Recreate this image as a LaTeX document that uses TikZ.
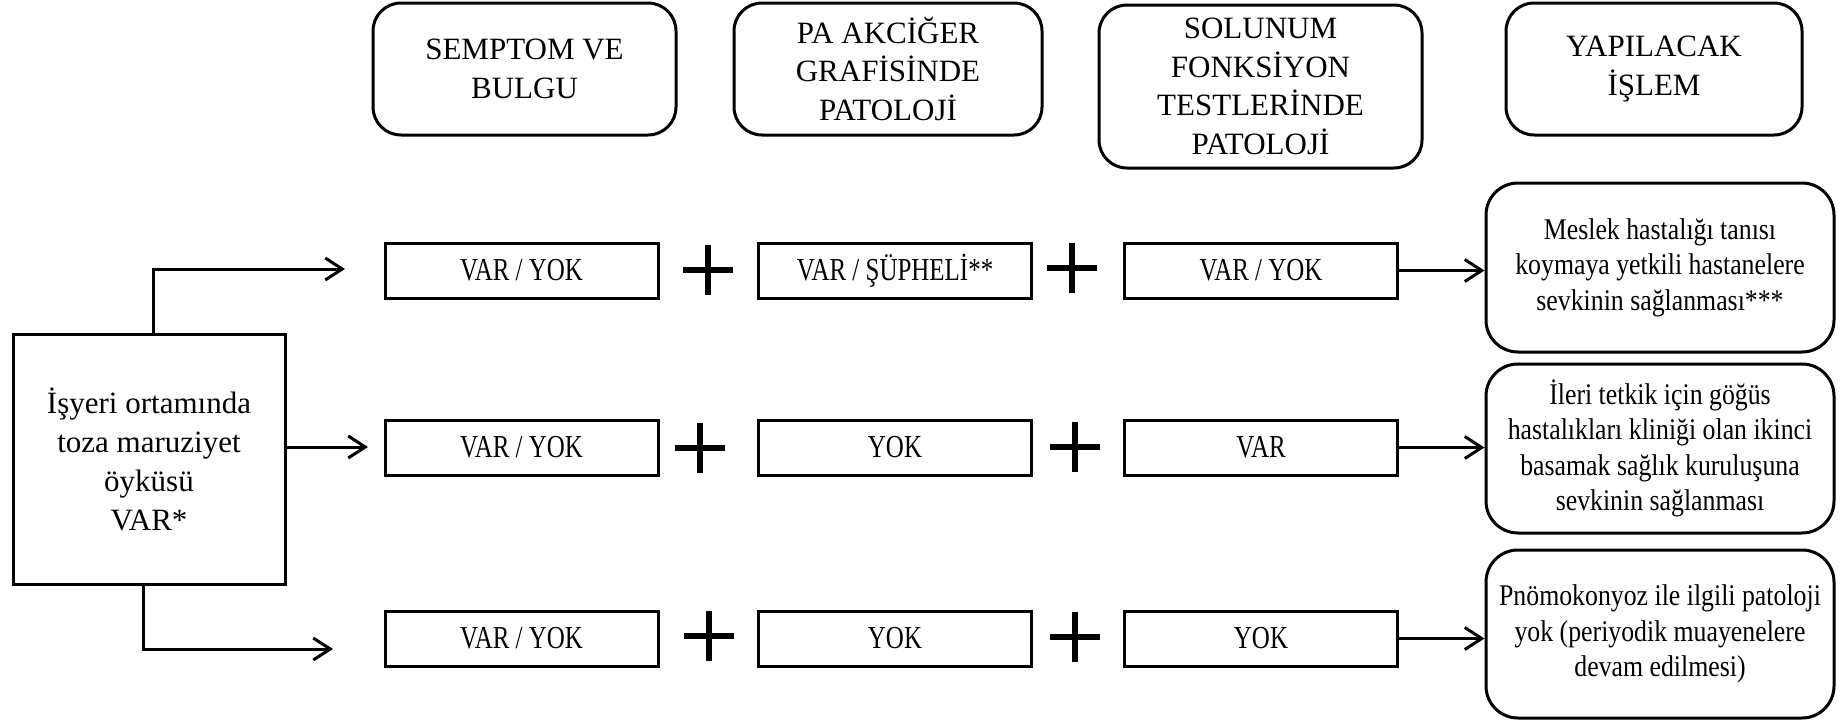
\documentclass[tikz,border=0pt]{standalone}
\usepackage{fontspec}
\setmainfont{Liberation Serif}
\newfontfamily\boxfont[FakeStretch=0.78]{Liberation Serif}
\newfontfamily\resfont[FakeStretch=0.86]{Liberation Serif}
\usetikzlibrary{arrows.meta}
\begin{document}
\begin{tikzpicture}[x=1pt,y=-1pt,
  head/.style={draw, line width=3pt, rounded corners=28pt, align=center, inner sep=0pt,
    font=\fontsize{31}{38.5}\selectfont},
  cell/.style={draw, line width=3pt, align=center, inner sep=0pt,
    minimum width=273pt, minimum height=55pt, font=\boxfont\fontsize{32}{36}\selectfont},
  result/.style={draw, line width=3pt, rounded corners=32pt, align=center, inner sep=0pt,
    minimum width=348pt, font=\resfont\fontsize{30}{35.5}\selectfont},
  leftbox/.style={draw, line width=3pt, align=center, inner sep=0pt,
    font=\fontsize{31}{39}\selectfont},
  arr/.style={line width=3pt, -{Straight Barb[length=17pt,width=22pt,line width=3pt]}},
  plussign/.pic={\draw[line width=6.5pt] (0,-25) -- (0,25) (-25,0) -- (25,0);}
]
\useasboundingbox (0,0) rectangle (1845,720);

% header boxes
\node[head, minimum width=303pt, minimum height=132pt] (h1) at (524.5,69) {SEMPTOM VE\\BULGU};
\node[head, minimum width=308pt, minimum height=132pt] (h2) at (888,69) {PA AKCİĞER\\GRAFİSİNDE\\PATOLOJİ};
\node[head, minimum width=323pt, minimum height=163pt] (h3) at (1260.5,86.5) {SOLUNUM\\FONKSİYON\\TESTLERİNDE\\PATOLOJİ};
\node[head, minimum width=296pt, minimum height=132pt] (h4) at (1654,69) {YAPILACAK\\İŞLEM};

% left box
\node[leftbox, minimum width=272pt, minimum height=250pt] (L) at (149,459) {İşyeri ortamında\\toza maruziyet\\öyküsü\\VAR*};

% row 1
\node[cell] (c11) at (521.5,270.5) {VAR / YOK};
\node[cell] (c12) at (895,270.5) {VAR / ŞÜPHELİ**};
\node[cell] (c13) at (1261,270.5) {VAR / YOK};
% row 2
\node[cell] (c21) at (521.5,447.5) {VAR / YOK};
\node[cell] (c22) at (895,447.5) {YOK};
\node[cell] (c23) at (1261,447.5) {VAR};
% row 3
\node[cell] (c31) at (521.5,638.5) {VAR / YOK};
\node[cell] (c32) at (895,638.5) {YOK};
\node[cell] (c33) at (1261,638.5) {YOK};

% plus signs
\pic at (708,270) {plussign};
\pic at (1072,268) {plussign};
\pic at (700,448) {plussign};
\pic at (1075,447) {plussign};
\pic at (709,636) {plussign};
\pic at (1075,637) {plussign};

% result boxes
\node[result, minimum height=169pt] (r1) at (1660,267.5) {Meslek hastalığı tanısı\\koymaya yetkili hastanelere\\sevkinin sağlanması***};
\node[result, minimum height=169pt] (r2) at (1660,448.5) {İleri tetkik için göğüs\\hastalıkları kliniği olan ikinci\\basamak sağlık kuruluşuna\\sevkinin sağlanması};
\node[result, minimum height=168pt] (r3) at (1660,634) {Pnömokonyoz ile ilgili patoloji\\yok (periyodik muayenelere\\devam edilmesi)};

% left arrows
\coordinate (t1) at (345,269);
\coordinate (t2) at (368,447);
\coordinate (t3) at (333,649);
\draw[arr] ([xshift=4pt]L.north) |- (t1);
\draw[arr] ([yshift=12pt]L.east) -- (t2);
\draw[arr] ([xshift=-6pt]L.south) |- (t3);

% right arrows
\draw[arr] (c13.east) -- (c13.east -| r1.west);
\draw[arr] (c23.east) -- (c23.east -| r2.west);
\draw[arr] (c33.east) -- (c33.east -| r3.west);
\end{tikzpicture}
\end{document}
